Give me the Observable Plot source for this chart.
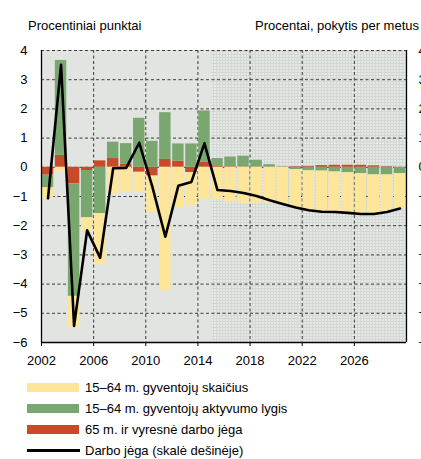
<!DOCTYPE html>
<html><head><meta charset="utf-8">
<script src="https://cdn.jsdelivr.net/npm/d3@7"></script>
<script src="https://cdn.jsdelivr.net/npm/@observablehq/plot@0.6"></script>
<style>
body{margin:0;overflow:hidden;background:#fff;font-family:"Liberation Sans",Arial,sans-serif;}
#wrap{position:relative;width:421px;height:459px;overflow:hidden;}
.t{position:absolute;font-size:13px;line-height:15px;color:#000;white-space:nowrap;}
.sw{position:absolute;left:27px;width:52px;height:9px;}
#plot{position:absolute;left:0;top:0;}
</style></head><body><div id="wrap"><div id="plot"></div></div>
<script>
// ---- data ----
const years = [2002,2003,2004,2005,2006,2007,2008,2009,2010,2011,2012,2013,2014,2015,2016,2017,2018,2019,2020,2021,2022,2023,2024,2025,2026,2027,2028,2029];
const older65 = [-0.27,0.41,-0.57,-0.11,0.22,0.30,0.11,-0.17,-0.30,0.27,0.21,-0.18,0.18,0.03,0.02,0.01,0.01,0.00,0.00,0.02,0.03,0.06,0.07,0.07,0.07,0.05,0.02,0.00];
const activity = [-0.43,3.25,-3.85,-1.62,-1.59,0.56,0.70,1.68,0.89,1.60,0.59,0.80,1.75,0.27,0.33,0.37,0.23,0.09,0.02,-0.08,-0.12,-0.13,-0.16,-0.19,-0.22,-0.26,-0.26,-0.22];
const population = [-0.37,-0.16,-1.05,-0.46,-1.75,-0.92,-0.85,-0.68,-1.25,-4.21,-1.42,-1.14,-1.10,-1.10,-1.19,-1.25,-1.22,-1.22,-1.28,-1.32,-1.38,-1.43,-1.43,-1.40,-1.38,-1.40,-1.28,-1.20];
const labourForce = [-1.06,3.51,-5.43,-2.16,-3.10,-0.03,-0.02,0.84,-0.66,-2.38,-0.63,-0.50,0.82,-0.78,-0.81,-0.88,-0.98,-1.13,-1.26,-1.38,-1.47,-1.52,-1.53,-1.56,-1.60,-1.60,-1.53,-1.41];

const seriesNames = ["65 m. ir vyresnė darbo jėga","15–64 m. gyventojų aktyvumo lygis","15–64 m. gyventojų skaičius"];
const seriesColors = ["#c84a28","#7aa66f","#fde59a"];
const lineName = "Darbo jėga (skalė dešinėje)";
const leftTitle = "Procentiniai punktai";
const rightTitle = "Procentai, pokytis per metus";

const xDomain = [2002, 2030];
const projectionStart = 2015;
const xTicks = [2002,2006,2010,2014,2018,2022,2026];
const xGrid = [2006,2010,2014,2018,2022,2026];
const yTicks = [-6,-5,-4,-3,-2,-1,0,1,2,3,4];
const yGrid = [-5,-4,-3,-2,-1,0,1,2,3,4];

// ---- tables ----
const seriesValues = [older65, activity, population];
const bars = years.flatMap((year, i) => seriesNames.map((s, k) => ({year, series: s, value: seriesValues[k][i]})));
const line = years.map((year, i) => ({year, value: labourForce[i]}));
const periods = [{start: xDomain[0], end: projectionStart, kind: "hist"}, {start: projectionStart, end: xDomain[1], kind: "proj"}];
const yMin = d3.min(yTicks), yMax = d3.max(yTicks);

const defsMark = () => {
  const g = d3.create("svg:defs");
  const p = g.append("pattern").attr("id","projPat").attr("patternUnits","userSpaceOnUse").attr("width",3).attr("height",3);
  p.append("rect").attr("width",3).attr("height",3).attr("fill","#e5e8e4");
  p.append("rect").attr("width",3).attr("height",1).attr("fill","#d4d8d4");
  p.append("rect").attr("width",1).attr("height",3).attr("fill","#d4d8d4");
  return g.node();
};

const chart = Plot.plot({
  width: 421, height: 372,
  marginTop: 50, marginBottom: 30, marginLeft: 41, marginRight: 15,
  style: {fontFamily: '"Liberation Sans", Arial, sans-serif', fontSize: "13px", background: "transparent", color: "#000", overflow: "visible"},
  x: {domain: xDomain, axis: null},
  y: {domain: [yMin, yMax], axis: null},
  color: {domain: seriesNames, range: seriesColors},
  marks: [
    defsMark,
    Plot.rect(periods.filter(d => d.kind === "hist"), {x1: "start", x2: "end", y1: () => yMin, y2: () => yMax, fill: "#e1e4e0"}),
    Plot.rect(periods.filter(d => d.kind === "proj"), {x1: "start", x2: "end", y1: () => yMin, y2: () => yMax, fill: "url(#projPat)"}),
    Plot.ruleY(yGrid, {stroke: "#3a3a3a", strokeWidth: 1, strokeDasharray: "3,2.5"}),
    Plot.ruleX(xGrid, {stroke: "#3a3a3a", strokeWidth: 1, strokeDasharray: "3,2.5"}),
    Plot.rectY(bars, {x1: "year", x2: d => d.year + 1, y: "value", fill: "series", insetLeft: 0.8, insetRight: 0.8}),
    Plot.line(line, {x: d => d.year + 0.5, y: "value", stroke: "#000", strokeWidth: 2.6}),
    Plot.ruleX(xDomain, {stroke: "#000", strokeWidth: 1.3}),
    Plot.ruleY([yMin], {stroke: "#000", strokeWidth: 1.3}),
    Plot.axisY({ticks: yTicks, anchor: "left", tickSize: 0, tickPadding: 14, label: null}),
    Plot.axisY({ticks: yTicks, anchor: "right", tickSize: 0, tickPadding: 12, label: null}),
    Plot.axisX({ticks: xTicks, anchor: "bottom", tickSize: 4, tickPadding: 9, label: null, tickFormat: d => String(d)})
  ]
});
document.getElementById("plot").appendChild(chart);

const wrap = document.getElementById("wrap");
function addText(txt, css) { const d = document.createElement("div"); d.className = "t"; d.textContent = txt; Object.assign(d.style, css); wrap.appendChild(d); }
addText(leftTitle, {left: "28px", top: "18px"});
addText(rightTitle, {right: "2px", top: "18px"});

const legend = [
  {label: seriesNames[2], color: seriesColors[2]},
  {label: seriesNames[1], color: seriesColors[1]},
  {label: seriesNames[0], color: seriesColors[0]},
  {label: lineName, line: true}
];
legend.forEach((it, i) => {
  const cy = 387 + i * 21.1;
  const sw = document.createElement("div");
  sw.className = "sw";
  if (it.line) { sw.style.height = "3px"; sw.style.top = (cy - 1.5) + "px"; sw.style.background = "#000"; sw.style.width = "53px"; }
  else { sw.style.top = (cy - 4.5) + "px"; sw.style.background = it.color; }
  wrap.appendChild(sw);
  addText(it.label, {left: "85px", top: (cy - 7) + "px"});
});
</script>
</body></html>
